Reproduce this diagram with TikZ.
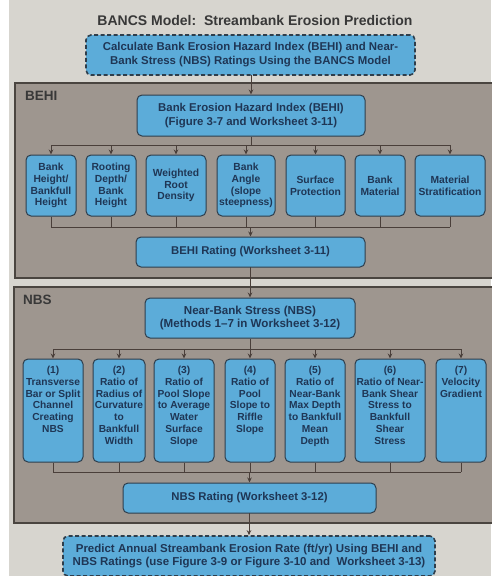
\documentclass[tikz,border=0pt]{standalone}
\usepackage{fontspec}
\setmainfont{Liberation Sans}
\usetikzlibrary{arrows.meta}
\definecolor{pagebg}{HTML}{D7D5CF}
\definecolor{panelbg}{HTML}{9E968F}
\definecolor{paneledge}{HTML}{4A4540}
\definecolor{boxblue}{HTML}{5CACD9}
\definecolor{boxedge}{HTML}{2E3E4C}
\definecolor{boxtext}{HTML}{1F3655}
\definecolor{linecol}{HTML}{4A3F3A}
\definecolor{titlecol}{HTML}{383838}
\begin{document}
\begin{tikzpicture}[x=1pt,y=-1pt,
  panel/.style={fill=panelbg, draw=paneledge, line width=1.1pt},
  panellabel/.style={anchor=west, inner sep=0pt, text=titlecol, font=\bfseries\fontsize{13.5}{15}\selectfont},
  bigbox/.style={draw=boxedge, fill=boxblue, rounded corners=5pt, line width=1pt, inner sep=0pt, text=boxtext, align=center, font=\bfseries\fontsize{11.4}{13.5}\selectfont},
  dashbox/.style={bigbox, line width=1.6pt, dash pattern=on 4pt off 2.5pt, font=\bfseries\fontsize{11.4}{14}\selectfont},
  ratebox/.style={bigbox, font=\bfseries\fontsize{11.3}{13}\selectfont},
  smallbox/.style={draw=boxedge, fill=boxblue, rounded corners=5pt, line width=1pt, inner sep=0pt, text=boxtext, align=center, font=\bfseries\fontsize{10.3}{11.8}\selectfont},
  smalltext/.style={inner sep=0pt, text=boxtext, align=center, font=\bfseries\fontsize{10.2}{11.8}\selectfont, anchor=north},
  conn/.style={draw=linecol, line width=1pt},
  arr/.style={conn, -{Stealth[length=5pt,width=4.5pt]}}
]
\useasboundingbox (0,0) rectangle (491,576);
\fill[white] (0,0) rectangle (491,576);
\fill[pagebg] (9,0) rectangle (491,576);

% title
\node[inner sep=0pt, text=titlecol, font=\bfseries\fontsize{14}{16}\selectfont] (title) at (255,20) {BANCS Model:\ \ Streambank Erosion Prediction};

% panels
\draw[panel] (15,83) rectangle (496,278);
\draw[panel] (14,287) rectangle (496,523);
\node[panellabel] (behilab) at (25,96) {BEHI};
\node[panellabel] (nbslab) at (23,300) {NBS};

% main boxes
\node[dashbox, minimum width=329, minimum height=40] (top) at (250.5,55) {Calculate Bank Erosion Hazard Index (BEHI) and Near-\\Bank Stress (NBS) Ratings Using the BANCS Model};
\node[bigbox, minimum width=228, minimum height=41] (behi) at (251,115.5) {Bank Erosion Hazard Index (BEHI)\\(Figure 3-7 and Worksheet 3-11)};

% BEHI factor boxes
\node[smallbox, minimum width=50, minimum height=61] (b1) at (51,185.5) {Bank\\Height/\\Bankfull\\Height};
\node[smallbox, minimum width=50, minimum height=61] (b2) at (111,185.5) {Rooting\\Depth/\\Bank\\Height};
\node[smallbox, minimum width=60, minimum height=61] (b3) at (176,185.5) {Weighted\\Root\\Density};
\node[smallbox, minimum width=58, minimum height=61] (b4) at (246,185.5) {Bank\\Angle\\(slope\\steepness)};
\node[smallbox, minimum width=59, minimum height=61] (b5) at (315.5,185.5) {Surface\\Protection};
\node[smallbox, minimum width=50, minimum height=61] (b6) at (380,185.5) {Bank\\Material};
\node[smallbox, minimum width=70, minimum height=61] (b7) at (450,185.5) {Material\\Stratification};

\node[ratebox, minimum width=229, minimum height=30] (behirate) at (250.5,252) {BEHI Rating (Worksheet 3-11)};

\node[bigbox, font=\bfseries\fontsize{11.6}{12.7}\selectfont, minimum width=210, minimum height=40] (nbs) at (250,318) {Near-Bank Stress (NBS)\\(Methods 1--7 in Worksheet 3-12)};

% NBS method boxes
\node[smallbox, minimum width=60, minimum height=103] (n1) at (53,410.5) {};
\node[smallbox, minimum width=52, minimum height=103] (n2) at (119,410.5) {};
\node[smallbox, minimum width=60, minimum height=103] (n3) at (184,410.5) {};
\node[smallbox, minimum width=50, minimum height=103] (n4) at (250,410.5) {};
\node[smallbox, minimum width=60, minimum height=103] (n5) at (315,410.5) {};
\node[smallbox, minimum width=70, minimum height=103] (n6) at (390,410.5) {};
\node[smallbox, minimum width=50, minimum height=103] (n7) at (461,410.5) {};
\node[smalltext] (t1) at ([yshift=-7.5pt]n1.north) {(1)\\Transverse\\Bar or Split\\Channel\\Creating\\NBS};
\node[smalltext] (t2) at ([yshift=-7.5pt]n2.north) {(2)\\Ratio of\\Radius of\\Curvature\\to\\Bankfull\\Width};
\node[smalltext] (t3) at ([yshift=-7.5pt]n3.north) {(3)\\Ratio of\\Pool Slope\\to Average\\Water\\Surface\\Slope};
\node[smalltext] (t4) at ([yshift=-7.5pt]n4.north) {(4)\\Ratio of\\Pool\\Slope to\\Riffle\\Slope};
\node[smalltext] (t5) at ([yshift=-7.5pt]n5.north) {(5)\\Ratio of\\Near-Bank\\Max Depth\\to Bankfull\\Mean\\Depth};
\node[smalltext] (t6) at ([yshift=-7.5pt]n6.north) {(6)\\Ratio of Near-\\Bank Shear\\Stress to\\Bankfull\\Shear\\Stress};
\node[smalltext] (t7) at ([yshift=-7.5pt]n7.north) {(7)\\Velocity\\Gradient};

\node[ratebox, minimum width=253, minimum height=30] (nbsrate) at (249.5,498) {NBS Rating (Worksheet 3-12)};

\node[dashbox, font=\bfseries\fontsize{11.5}{12.5}\selectfont, minimum width=372, minimum height=40] (pred) at (249,556) {Predict Annual Streambank Erosion Rate (ft/yr) Using BEHI and\\NBS Ratings (use Figure 3-9 or Figure 3-10 and\ \ Worksheet 3-13)};

% connectors
\coordinate (bt) at (251,145);
\coordinate (bb) at (251,227);
\coordinate (nt) at (250,349);
\coordinate (nb) at (250,472);

\draw[arr] (top.south) -- (top.south -| behi.north) -- (behi.north);
\draw[conn] (behi.south) -- (behi.south |- bt);
\draw[conn] (b1.north |- bt) -- (b7.north |- bt);
\foreach \i in {1,...,7} {
  \draw[arr] (b\i.north |- bt) -- (b\i.north);
  \draw[conn] (b\i.south) -- (b\i.south |- bb);
}
\draw[conn] (b1.south |- bb) -- (b7.south |- bb);
\draw[arr] (behirate.north |- bb) -- (behirate.north);
\draw[arr] (behirate.south) -- (behirate.south -| nbs.north) -- (nbs.north);

\draw[conn] (nbs.south) -- (nbs.south |- nt);
\draw[conn] (n1.north |- nt) -- (n7.north |- nt);
\foreach \i in {1,...,7} {
  \draw[arr] (n\i.north |- nt) -- (n\i.north);
  \draw[conn] (n\i.south) -- (n\i.south |- nb);
}
\draw[conn] (n1.south |- nb) -- (n7.south |- nb);
\draw[arr] (nbsrate.north |- nb) -- (nbsrate.north);
\draw[arr] (nbsrate.south) -- (nbsrate.south -| pred.north) -- (pred.north);
\end{tikzpicture}
\end{document}
